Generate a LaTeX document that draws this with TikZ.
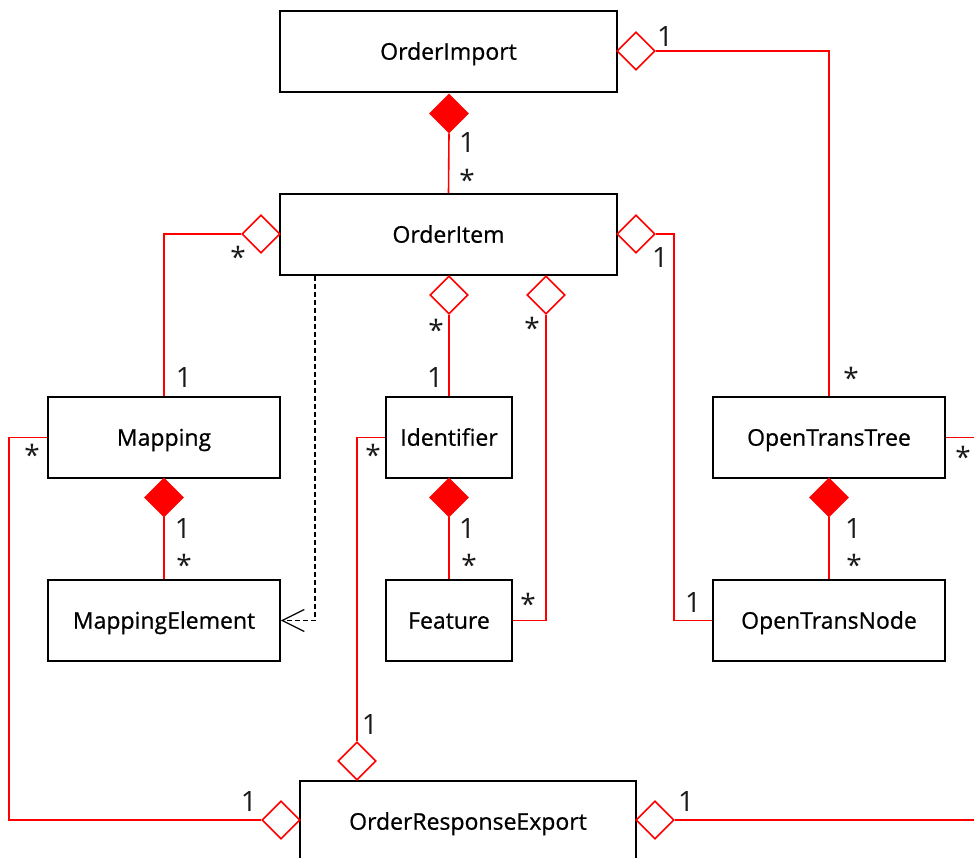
\documentclass[tikz,border=0pt]{standalone}
\usepackage{fontspec}
\setmainfont{Open Sans}
\newfontfamily\clsfont[FakeBold=0.7]{Open Sans}
\usetikzlibrary{shapes.geometric,arrows.meta}
\definecolor{assocred}{RGB}{255,0,0}
\tikzset{
  cls/.style={draw=black, line width=1.6pt, fill=white, inner sep=0pt,
    text height=16.4pt, text depth=0pt,
    font=\clsfont\fontsize{23}{27}\selectfont},
  diam/.style={diamond, draw=assocred, line width=1.6pt, inner sep=0pt,
    minimum width=38pt, minimum height=38pt},
  odiam/.style={diam, fill=white},
  fdiam/.style={diam, fill=assocred},
  assoc/.style={draw=assocred, line width=1.6pt},
  dep/.style={draw=black, line width=1.5pt, dash pattern=on 5pt off 3pt},
  mult/.style={inner sep=0pt, font=\fontsize{28}{30}\selectfont\color[gray]{0.1}},
}
\begin{document}
\begin{tikzpicture}[x=1pt, y=-1pt]
\clip (0,0) rectangle (974,858);
\fill[white] (0,0) rectangle (974,858);

% classes
\node[cls, minimum width=337pt, minimum height=81pt] (imp)   at (448.5,51.5)  {OrderImport};
\node[cls, minimum width=337pt, minimum height=81pt] (item)  at (448.5,234.5) {OrderItem};
\node[cls, minimum width=232pt, minimum height=81pt] (map)   at (164,437.5)   {Mapping};
\node[cls, minimum width=232pt, minimum height=81pt] (mapel) at (164,620.5)   {MappingElement};
\node[cls, minimum width=126pt, minimum height=81pt] (ident) at (449,437.5)   {Identifier};
\node[cls, minimum width=126pt, minimum height=81pt] (feat)  at (449,620.5)   {Feature};
\node[cls, minimum width=232pt, minimum height=81pt] (ott)   at (829,437.5)   {OpenTransTree};
\node[cls, minimum width=232pt, minimum height=81pt] (otn)   at (829,620.5)   {OpenTransNode};
\node[cls, minimum width=336pt, minimum height=81pt] (ore)   at (468,821.5)   {OrderResponseExport};

% aggregation / composition ends
\node[odiam] (dImpR)  at (636,51)    {};
\node[fdiam] (dImpB)  at (449,113.5) {};
\node[odiam] (dItemL) at (261,234)   {};
\node[odiam] (dItemR) at (636,234)   {};
\node[odiam] (dItemB1) at (449,295)  {};
\node[odiam] (dItemB2) at (546,295)  {};
\node[fdiam] (dMap)   at (164,497.5) {};
\node[fdiam] (dIdent) at (449,497.5) {};
\node[fdiam] (dOtt)   at (829,497.5) {};
\node[odiam] (dOreT)  at (357,761)   {};
\node[odiam] (dOreL)  at (281,820)   {};
\node[odiam] (dOreR)  at (655,820)   {};

% associations
\draw[assoc] (dImpR.east) -| (ott.north);
\draw[assoc] (dImpB.south) -- (item.north);
\draw[assoc] (dItemL.west) -| (map.north);
\draw[assoc] (dItemR.east) -| ([xshift=-38pt]otn.west) -- (otn.west);
\draw[assoc] (dItemB1.south) -- (ident.north);
\draw[assoc] (dItemB2.south) |- (feat.east);
\draw[assoc] (dMap.south) -- (mapel.north);
\draw[assoc] (dIdent.south) -- (feat.north);
\draw[assoc] (dOtt.south) -- (otn.north);
\draw[assoc] (map.west) -- ++(-38,0) |- (dOreL.west);
\draw[assoc] (ident.west) -| (dOreT.north);
\draw[assoc] (ott.east) -- ++(45,0) |- (dOreR.east);

% dependency
\draw[dep, -{Straight Barb[length=22pt, width=22pt, line width=1.3pt]}]
  ([xshift=36pt]item.south west) |- (mapel.east);

% multiplicities
\node[mult] (m1)  at (665,37)  {1};
\node[mult] (m2)  at (467,143) {1};
\node[mult] (m3)  at (467,180) {*};
\node[mult] (m4)  at (238,257) {*};
\node[mult] (m5)  at (184,378) {1};
\node[mult] (m6)  at (660,258) {1};
\node[mult] (m7)  at (436,330) {*};
\node[mult] (m8)  at (435,378) {1};
\node[mult] (m9)  at (532,328) {*};
\node[mult] (m10) at (851,378) {*};
\node[mult] (m11) at (32,455)  {*};
\node[mult] (m12) at (373,455) {*};
\node[mult] (m13) at (963,457) {*};
\node[mult] (m14) at (183,529) {1};
\node[mult] (m15) at (184,565) {*};
\node[mult] (m16) at (467,529) {1};
\node[mult] (m17) at (469,565) {*};
\node[mult] (m18) at (853,529) {1};
\node[mult] (m19) at (854,565) {*};
\node[mult] (m20) at (528,604) {*};
\node[mult] (m21) at (693,603) {1};
\node[mult] (m22) at (370,725) {1};
\node[mult] (m23) at (249,801) {1};
\node[mult] (m24) at (686,801) {1};
\end{tikzpicture}
\end{document}
